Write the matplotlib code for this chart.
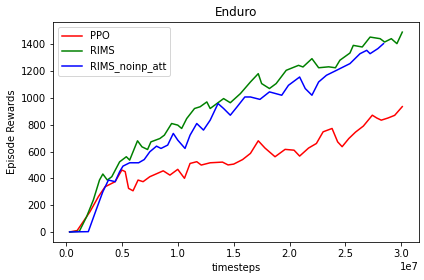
import matplotlib
matplotlib.use('Agg')
import matplotlib.pyplot as plt
import numpy as np

# readings, x in units of 1e7 timesteps
ppo_x = [0.033, 0.10, 0.155, 0.215, 0.29, 0.35, 0.44, 0.50, 0.53, 0.56, 0.60, 0.645, 0.69, 0.75,
         0.87, 0.93, 1.00, 1.06, 1.11, 1.17, 1.21, 1.29, 1.40, 1.45, 1.50, 1.58, 1.65, 1.72, 1.78,
         1.87, 1.96, 2.04, 2.09, 2.17, 2.24, 2.30, 2.38, 2.43, 2.47, 2.53, 2.59, 2.66, 2.74,
         2.78, 2.82, 2.88, 2.94, 3.008]
ppo_y = [0, 10, 77, 151, 263, 337, 375, 462, 450, 325, 307, 387, 375, 412,
         456, 424, 467, 400, 511, 524, 499, 516, 521, 500, 506, 540, 586, 680, 626,
         561, 616, 610, 566, 626, 660, 747, 772, 672, 636, 697, 745, 790, 871,
         850, 834, 850, 870, 935]

rims_x = [0.033, 0.12, 0.185, 0.245, 0.30, 0.33, 0.37, 0.41, 0.48, 0.54, 0.57, 0.64, 0.68, 0.73,
          0.76, 0.84, 0.88, 0.945, 1.00, 1.035, 1.08, 1.15, 1.20, 1.26, 1.29, 1.35, 1.41, 1.47,
          1.56, 1.65, 1.72, 1.75, 1.82, 1.88, 1.97, 2.08, 2.12, 2.20, 2.26, 2.35, 2.41, 2.45,
          2.54, 2.57, 2.65, 2.72, 2.81, 2.85, 2.91, 2.96, 3.008]
rims_y = [0, 5, 114, 238, 387, 432, 387, 412, 523, 561, 536, 680, 635, 615,
          672, 697, 722, 809, 797, 772, 846, 921, 934, 970, 921, 958, 995, 964,
          1032, 1119, 1181, 1107, 1070, 1107, 1206, 1243, 1231, 1293, 1225, 1232, 1225, 1281,
          1335, 1392, 1380, 1454, 1442, 1417, 1442, 1405, 1491]

noinp_x = [0.033, 0.20, 0.27, 0.33, 0.38, 0.44, 0.48, 0.51, 0.57, 0.65, 0.70, 0.75, 0.81, 0.85,
           0.91, 0.96, 1.00, 1.065, 1.11, 1.17, 1.23, 1.29, 1.36, 1.41, 1.47, 1.53, 1.60, 1.65,
           1.735, 1.82, 1.93, 1.99, 2.09, 2.14, 2.20, 2.26, 2.33, 2.42, 2.54, 2.63, 2.69, 2.72,
           2.79, 2.84]
noinp_y = [0, 2, 164, 300, 387, 375, 449, 491, 516, 516, 540, 598, 640, 623,
           648, 735, 685, 623, 722, 809, 760, 834, 958, 921, 871, 933, 1007, 1007,
           989, 1045, 1020, 1094, 1156, 1070, 1020, 1119, 1169, 1206, 1256, 1330, 1355, 1330,
           1368, 1405]

fig, ax = plt.subplots(figsize=(424 / 72, 280 / 72), dpi=72)
plt.subplots_adjust(left=0.125, right=0.988, top=0.921, bottom=0.136)

ax.plot(np.array(ppo_x) * 1e7, ppo_y, color='r', label='PPO')
ax.plot(np.array(rims_x) * 1e7, rims_y, color='g', label='RIMS')
ax.plot(np.array(noinp_x) * 1e7, noinp_y, color='b', label='RIMS_noinp_att')

ax.set_title('Enduro')
ax.set_xlabel('timesteps')
ax.set_ylabel('Episode Rewards')
ax.legend(loc='upper left')

fig.savefig('out.png', dpi=72)
